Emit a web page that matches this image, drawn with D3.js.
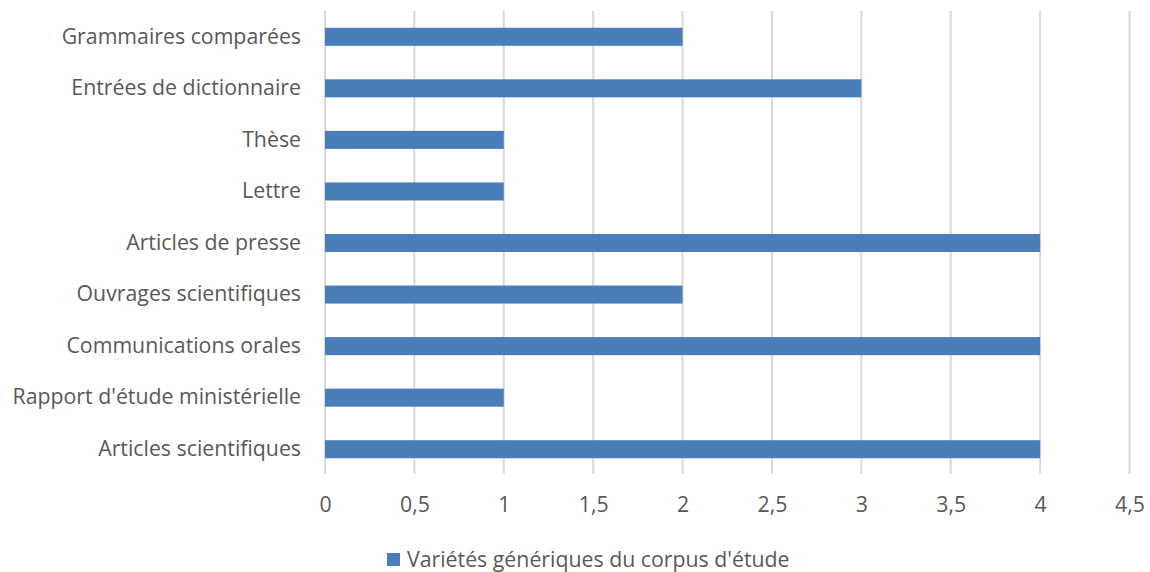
<!DOCTYPE html>
<html>
<head>
<meta charset="UTF-8" />
<title>Variétés génériques</title>
<script src="https://d3js.org/d3.v7.min.js"></script>
<style>
  body { margin: 0; background: #fff; }
  text { font-family: "Open Sans", sans-serif; fill: #595959; }
</style>
</head>
<body>
<svg id="chart" width="1150" height="572"></svg>
<script>
// data, top category first
const categories = ["Grammaires comparées", "Entrées de dictionnaire", "Thèse", "Lettre",
  "Articles de presse", "Ouvrages scientifiques", "Communications orales",
  "Rapport d'étude ministérielle", "Articles scientifiques"]
const values = [2, 3, 1, 1, 4, 2, 4, 1, 4]
const xTicks = [0, 0.5, 1, 1.5, 2, 2.5, 3, 3.5, 4, 4.5]
const seriesName = "Variétés génériques du corpus d'étude"

const barColor = "#4a7ebb"
const gridColor = "#d9d9d9"
const fontSize = "21.3px"

const svg = d3.select("#chart")
const x = d3.scaleLinear().domain([0, 4.5]).range([325, 1129.5])
const y = d3.scaleBand().domain(categories).range([11, 475]).paddingInner(0.65).paddingOuter(0.325)

// grid
svg.append("g").selectAll("line").data(xTicks).join("line")
  .attr("x1", d => x(d)).attr("x2", d => x(d))
  .attr("y1", 11).attr("y2", 474)
  .style("stroke", gridColor).style("stroke-width", "2px")

// bars
svg.append("g").selectAll("rect").data(values).join("rect")
  .attr("x", x(0))
  .attr("y", (d, i) => y(categories[i]))
  .attr("width", d => x(d) - x(0))
  .attr("height", y.bandwidth())
  .style("fill", barColor)

// x axis labels
const fmt = d => String(d).replace(".", ",")
const xAxis = d3.axisBottom(x).tickValues(xTicks).tickFormat(fmt).tickSize(0).tickPadding(0)
const xg = svg.append("g").attr("transform", "translate(0,499)").call(xAxis)
xg.select(".domain").remove()
xg.selectAll("text").style("font-size", fontSize).style("fill", "#595959").attr("dy", "0.6em")

// y axis labels
const yAxis = d3.axisLeft(y).tickSize(0).tickPadding(24)
const yg = svg.append("g").attr("transform", `translate(${x(0)},0)`).call(yAxis)
yg.select(".domain").remove()
yg.selectAll("text").style("font-size", fontSize).style("fill", "#595959")

// legend
const lg = svg.append("g").attr("transform", "translate(387,553)")
lg.append("rect").attr("width", 13).attr("height", 13).style("fill", barColor)
lg.append("text").attr("x", 20).attr("y", 7).attr("dy", "0.35em")
  .style("font-size", fontSize).text(seriesName)
</script>
</body>
</html>
